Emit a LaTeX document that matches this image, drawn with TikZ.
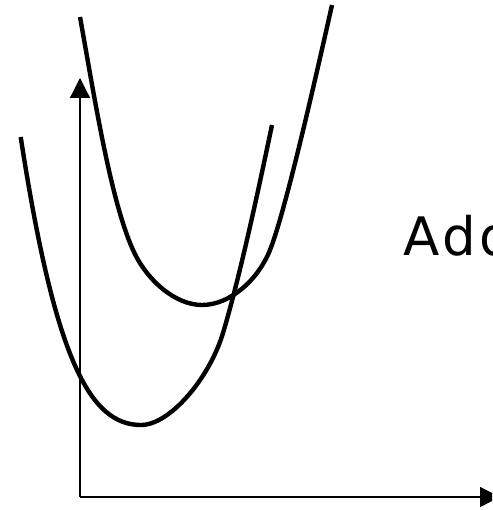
\documentclass[tikz,border=0pt]{standalone}
\usepackage{fontspec}
\newfontfamily\labelfont[LetterSpace=7]{DejaVu Sans}
\usetikzlibrary{arrows.meta}
\tikzset{
  axis/.style={line width=1.2pt, -{Triangle[length=20pt,width=20pt]}},
  curve/.style={line width=4.4pt}
}
\begin{document}
\begin{tikzpicture}[x=1pt, y=-1pt, every node/.style={font=\labelfont\fontsize{53}{60}\selectfont}]
  \clip (0,0) rectangle (492,510);
  % Axes
  \coordinate (origin) at (80,497);
  \coordinate (ytip) at (80,78);
  \coordinate (xtip) at (500,497);
  \draw[axis] (origin) -- (ytip);
  \draw[axis] (origin) -- (xtip);
  % Lower curve
  \draw[curve] (20.7,137)
    .. controls (55,360) and (90,425) .. (141,425)
    .. controls (170,425) and (209.5,378) .. (223,333)
    .. controls (241,273) and (261.5,175) .. (272,125);
  % Upper curve
  \draw[curve] (80,17)
    .. controls (94.4,97) and (110.5,200) .. (133,250)
    .. controls (146.5,280) and (175,305) .. (202,305)
    .. controls (230,305) and (258,280) .. (270,250)
    .. controls (286,210) and (318.5,65) .. (332,5);
  % Label
  \node[anchor=base west, inner sep=0pt] (label) at (403,255) {Add};
\end{tikzpicture}
\end{document}
